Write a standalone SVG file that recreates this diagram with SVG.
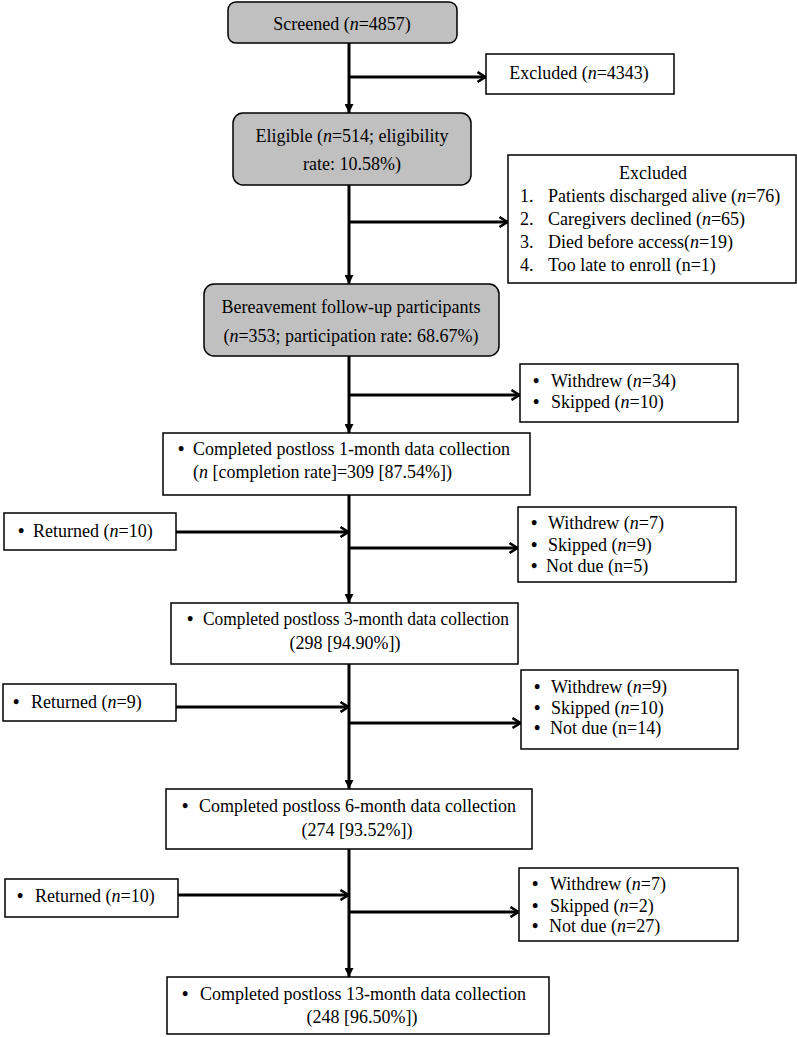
<svg xmlns="http://www.w3.org/2000/svg" width="797" height="1037" viewBox="0 0 797 1037">
<style>
text{font-family:"Liberation Serif","Times New Roman",serif;font-size:18px;fill:#000}
.m{text-anchor:middle}
.i{font-style:italic}
.b{font-weight:bold}
.box{fill:#fff;stroke:#000;stroke-width:1.5}
.gbox{fill:#c0c0c0;stroke:#000;stroke-width:1.5}
.ln{fill:none;stroke:#000;stroke-width:3}
</style>
<defs>
<marker id="chev" viewBox="0 0 10 12" refX="9.5" refY="6" markerWidth="10" markerHeight="12" orient="auto" markerUnits="userSpaceOnUse">
<path d="M1,1 L9,6 L1,11" fill="none" stroke="#000" stroke-width="2.5"/>
</marker>
<marker id="tri" viewBox="0 0 10 10" refX="10" refY="5" markerWidth="9" markerHeight="9" orient="auto" markerUnits="userSpaceOnUse">
<path d="M0,0 L10,5 L0,10 z" fill="#000"/>
</marker>
</defs>

<g id="connectors">
<path class="ln" d="M349,43 V113" marker-end="url(#tri)"/>
<path class="ln" d="M349,77 H486" marker-end="url(#chev)"/>
<path class="ln" d="M349,185 V284" marker-end="url(#tri)"/>
<path class="ln" d="M349,222 H508" marker-end="url(#chev)"/>
<path class="ln" d="M349,356 V433" marker-end="url(#tri)"/>
<path class="ln" d="M349,395 H520" marker-end="url(#chev)"/>
<path class="ln" d="M349,495 V603" marker-end="url(#tri)"/>
<path class="ln" d="M176,532 H349" marker-end="url(#chev)"/>
<path class="ln" d="M349,548 H518" marker-end="url(#chev)"/>
<path class="ln" d="M349,664 V789" marker-end="url(#tri)"/>
<path class="ln" d="M176,707 H349" marker-end="url(#chev)"/>
<path class="ln" d="M349,723 H521" marker-end="url(#chev)"/>
<path class="ln" d="M349,849 V977" marker-end="url(#tri)"/>
<path class="ln" d="M178,895 H349" marker-end="url(#chev)"/>
<path class="ln" d="M349,912 H519" marker-end="url(#chev)"/>
</g>

<g id="screened">
<rect class="gbox" x="228" y="2" width="229" height="41" rx="8"/>
<text class="m" x="342" y="30">Screened (<tspan class="i">n</tspan>=4857)</text>
</g>

<g id="excluded1">
<rect class="box" x="486" y="54" width="188" height="40"/>
<text class="m" x="579" y="79">Excluded (<tspan class="i">n</tspan>=4343)</text>
</g>

<g id="eligible">
<rect class="gbox" x="233" y="113" width="238" height="72" rx="10"/>
<text class="m" x="352" y="142">Eligible (<tspan class="i">n</tspan>=514; eligibility</text>
<text class="m" x="352" y="170">rate: 10.58%)</text>
</g>

<g id="excluded2">
<rect class="box" x="508" y="155" width="288" height="128"/>
<text class="m" x="653" y="179">Excluded</text>
<text x="520" y="202">1.<tspan x="548">Patients discharged alive (<tspan class="i">n</tspan>=76)</tspan></text>
<text x="520" y="225">2.<tspan x="548">Caregivers declined (<tspan class="i">n</tspan>=65)</tspan></text>
<text x="520" y="248">3.<tspan x="548">Died before access(<tspan class="i">n</tspan>=19)</tspan></text>
<text x="520" y="271">4.<tspan x="548">Too late to enroll (n=1)</tspan></text>
</g>

<g id="bereavement">
<rect class="gbox" x="204" y="284" width="295" height="72" rx="10"/>
<text class="m" x="351" y="313">Bereavement follow-up participants</text>
<text class="m" x="351" y="342">(<tspan class="i">n</tspan>=353; participation rate: 68.67%)</text>
</g>

<g id="withdrew1">
<rect class="box" x="520" y="364" width="218" height="58"/>
<text x="533" y="387"><tspan class="b">•</tspan><tspan x="551">Withdrew (<tspan class="i">n</tspan>=34)</tspan></text>
<text x="533" y="408"><tspan class="b">•</tspan><tspan x="551">Skipped (<tspan class="i">n</tspan>=10)</tspan></text>
</g>

<g id="completed1">
<rect class="box" x="163" y="433" width="367" height="62"/>
<text x="178" y="455"><tspan class="b">•</tspan><tspan x="193">Completed postloss 1-month data collection</tspan></text>
<text x="193" y="478">(<tspan class="i">n</tspan> [completion rate]=309 [87.54%])</text>
</g>

<g id="returned1">
<rect class="box" x="4" y="513" width="172" height="37"/>
<text x="18" y="537"><tspan class="b">•</tspan><tspan x="33">Returned (<tspan class="i">n</tspan>=10)</tspan></text>
</g>

<g id="withdrew2">
<rect class="box" x="518" y="507" width="218" height="75"/>
<text x="531" y="529"><tspan class="b">•</tspan><tspan x="548">Withdrew (<tspan class="i">n</tspan>=7)</tspan></text>
<text x="531" y="551"><tspan class="b">•</tspan><tspan x="548">Skipped (<tspan class="i">n</tspan>=9)</tspan></text>
<text x="531" y="572"><tspan class="b">•</tspan><tspan x="546">Not due (n=5)</tspan></text>
</g>

<g id="completed3">
<rect class="box" x="171" y="603" width="347" height="61"/>
<text x="187" y="625"><tspan class="b">•</tspan><tspan x="203" textLength="306" lengthAdjust="spacingAndGlyphs">Completed postloss 3-month data collection</tspan></text>
<text class="m" x="345" y="649">(298 [94.90%])</text>
</g>

<g id="returned2">
<rect class="box" x="3" y="684" width="173" height="37"/>
<text x="13" y="708"><tspan class="b">•</tspan><tspan x="31">Returned (<tspan class="i">n</tspan>=9)</tspan></text>
</g>

<g id="withdrew3">
<rect class="box" x="521" y="670" width="217" height="79"/>
<text x="534" y="693"><tspan class="b">•</tspan><tspan x="551">Withdrew (<tspan class="i">n</tspan>=9)</tspan></text>
<text x="534" y="714"><tspan class="b">•</tspan><tspan x="551">Skipped (<tspan class="i">n</tspan>=10)</tspan></text>
<text x="534" y="734"><tspan class="b">•</tspan><tspan x="550">Not due (n=14)</tspan></text>
</g>

<g id="completed6">
<rect class="box" x="166" y="789" width="366" height="60"/>
<text x="182" y="812"><tspan class="b">•</tspan><tspan x="199">Completed postloss 6-month data collection</tspan></text>
<text class="m" x="357" y="836">(274 [93.52%])</text>
</g>

<g id="returned3">
<rect class="box" x="5" y="879" width="173" height="38"/>
<text x="17" y="902"><tspan class="b">•</tspan><tspan x="35">Returned (<tspan class="i">n</tspan>=10)</tspan></text>
</g>

<g id="withdrew4">
<rect class="box" x="519" y="868" width="219" height="73"/>
<text x="532" y="890"><tspan class="b">•</tspan><tspan x="550">Withdrew (<tspan class="i">n</tspan>=7)</tspan></text>
<text x="532" y="912"><tspan class="b">•</tspan><tspan x="550">Skipped (<tspan class="i">n</tspan>=2)</tspan></text>
<text x="532" y="932"><tspan class="b">•</tspan><tspan x="549">Not due (<tspan class="i">n</tspan>=27)</tspan></text>
</g>

<g id="completed13">
<rect class="box" x="167" y="977" width="382" height="57"/>
<text x="182" y="1000"><tspan class="b">•</tspan><tspan x="200">Completed postloss 13-month data collection</tspan></text>
<text class="m" x="362" y="1023">(248 [96.50%])</text>
</g>
</svg>
